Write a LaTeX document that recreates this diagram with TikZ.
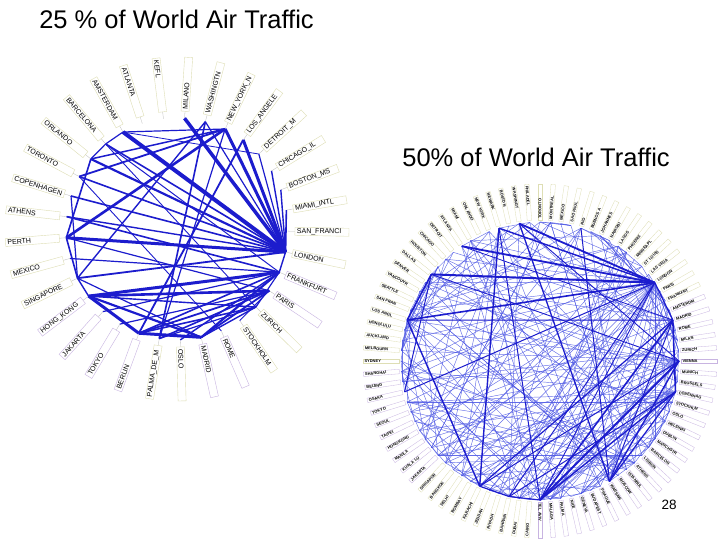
\documentclass[tikz,border=0pt]{standalone}
\usepackage{fontspec}
\setmainfont{Liberation Sans}
\definecolor{edgeblue}{RGB}{28,28,205}
\definecolor{thinblue}{RGB}{75,85,228}
\definecolor{boxY}{RGB}{222,222,180}
\definecolor{boxP}{RGB}{200,180,225}
\definecolor{leadgray}{RGB}{185,185,185}
\tikzset{
  title/.style={font=\fontsize{25.5}{30}\selectfont, inner sep=0pt},
  lbox/.style={draw=#1, line width=0.4pt, fill=white, text width=50pt, align=left,
    inner xsep=2pt, inner ysep=0pt, minimum height=8pt, font=\fontsize{7}{7}\selectfont},
  sbox/.style={draw=#1, line width=0.3pt, fill=white, text width=33pt, align=left,
    inner xsep=1.5pt, inner ysep=0pt, minimum height=4.5pt, font=\fontsize{4}{4}\selectfont\bfseries},
  leader/.style={draw=leadgray, line width=0.3pt},
  ledge/.style={draw=edgeblue, line cap=butt},
  rthin/.style={draw=thinblue, line width=0.45pt, opacity=0.85},
  rthick/.style={draw=edgeblue, line cap=butt}
}
\begin{document}
\begin{tikzpicture}[x=1pt,y=1pt]
\useasboundingbox (0,0) rectangle (720,-540);
\fill[white] (0,0) rectangle (720,-540);

\node[title] (t1) at (176.5,-19) {25 \% of World Air Traffic};
\node[title] (t2) at (536,-157) {50\% of World Air Traffic};

% ---------- left graph (25 %) ----------
\begin{scope}[shift={(177,-229)}]
\foreach \nm/\bc [count=\i from 0] in {KEFL/Y, MILANO/Y, WASHINGTN/Y, NEW\_YORK\_N/Y, LOS\_ANGELE/Y,
  DETROIT\_M/Y, CHICAGO\_IL/Y, BOSTON\_MS/Y, MIAMI\_INTL/Y, SAN\_FRANCI/Y, LONDON/Y,
  FRANKFURT/P, PARIS/P, ZURICH/Y, STOCKHOLM/Y, ROME/P, MADRID/P, OSLO/Y, PALMA\_DE\_M/Y,
  BERLIN/P, TOKYO/P, JAKARTA/P, HONG\_KONG/P, SINGAPORE/Y, MEXICO/Y, PERTH/Y, ATHENS/Y,
  COPENHAGEN/Y, TORONTO/Y, ORLANDO/Y, BARCELONA/Y, AMSTERDAM/Y, ATLANTA/Y} {
  \pgfmathsetmacro\th{97-10.9*\i}
  \pgfmathsetmacro\rot{cos(\th)>=0 ? \th : \th+180}
  \coordinate (L\i) at (\th:111);
  \node[lbox=box\bc, rotate=\rot] (LN\i) at (\th:145) {\nm};
  \draw[leader] (L\i) -- (LN\i);
}
\foreach \a/\b/\w in {31/10/4, 1/10/3.5, 3/10/3, 4/10/3, 25/10/3, 29/10/2.2, 30/10/1.6,
  28/10/1.6, 27/10/1.6, 26/10/1.4, 23/10/1.8, 6/10/1.4, 7/10/1.4, 8/10/1.6, 5/10/1.2,
  2/10/1.2, 11/10/1.4, 31/5/0.8, 31/3/1.2, 3/25/2.6, 3/28/1.8, 3/29/1.5, 2/18/1.6,
  2/23/1.4, 4/19/1.8, 3/18/1.2, 29/25/1.6, 25/23/1.6, 23/27/1.2, 31/30/1.2, 30/29/1.2,
  22/11/3, 22/19/3, 19/16/3, 16/11/2.2, 22/12/2.6, 22/16/2.2, 19/11/1.6, 19/12/1.8,
  19/13/1.6, 18/12/1.6, 18/13/1.2, 16/12/1.8, 16/13/1.4, 17/11/1.4, 20/12/1.2,
  21/11/1.2, 28/15/0.9, 30/13/0.9, 30/11/1.0, 26/11/1.6, 25/12/1.2, 24/11/1.2,
  13/11/1.2, 14/12/1.0, 23/16/1.2, 22/13/1.4, 23/22/1.4}
  \draw[ledge, line width=\w pt] (L\a) -- (L\b);
\end{scope}

% ---------- right graph (50 %) ----------
\begin{scope}[shift={(540,-361)}]
\foreach \nm [count=\j from 0] in {TORONTO, MONTREAL, MEXICO, SAO PAUL, RIO, BUENOS A,
  JOHANNES, NAIROBI, LAGOS, PHOENIX, MINNEAPL, ST LOUIS, LAS VEGA, LONDON, PARIS,
  FRANKFRT, AMSTERDM, MADRID, ROME, MILAN, ZURICH, VIENNA, MUNICH, BRUSSELS, COPENHAG,
  STOCKHLM, OSLO, HELSINKI, DUBLIN, MANCHSTR, BARCELON, LISBON, ATHENS, ISTANBUL,
  MOSCOW, WARSAW, PRAGUE, BUDAPEST, GENEVA, NICE, PALMA, MALAGA, TEL AVIV, CAIRO,
  DUBAI, BAHRAIN, RIYADH, JEDDAH, KARACHI, BOMBAY, DELHI, BANGKOK, SINGAPOR, JAKARTA,
  KUALA LU, MANILA, HONGKONG, TAIPEI, SEOUL, TOKYO, OSAKA, BEIJING, SHANGHAI, SYDNEY,
  MELBOURN, AUCKLAND, HONOLULU, LOS ANGL, SAN FRAN, SEATTLE, VANCOUVR, DENVER, DALLAS,
  HOUSTON, CHICAGO, DETROIT, ATLANTA, MIAMI, ORLANDO, NEW YORK, NEWARK, BOSTON,
  WASHINGT, PHILADEL} {
  \pgfmathsetmacro\ph{90-4.2857143*\j}
  \pgfmathsetmacro\rot{cos(\ph)>=0 ? \ph : \ph+180}
  \def\bc{boxY}
  \ifnum\j>15 \ifnum\j<43 \def\bc{boxP}\fi\fi
  \ifnum\j>52 \ifnum\j<63 \def\bc{boxP}\fi\fi
  \coordinate (R\j) at (\ph:139);
  \node[sbox=\bc, rotate=\rot] (RN\j) at (\ph:159) {\nm};
}
\pgfmathsetseed{12}
\foreach \k in {1,...,160} {
  \pgfmathrandominteger{\ra}{0}{83}
  \pgfmathrandominteger{\rb}{0}{83}
  \draw[rthin] (R\ra) -- (R\rb);
}
\foreach \t in {20,23,...,80} \draw[rthin] (R13) -- (R\t);
\foreach \t in {40,43,...,70} \draw[rthin] (R21) -- (R\t);
\foreach \t in {38,41,...,62} \draw[rthin] (R24) -- (R\t);
\foreach \t in {0,4,...,80} \draw[rthin] (R\t) -- (R\the\numexpr\t+3\relax);
\foreach \a/\b/\w in {13/76/1.8, 13/72/2.0, 13/82/1.8, 13/80/1.4, 13/67/1.6, 72/67/1.6,
  67/48/1.4, 48/45/1.2, 45/42/1.2, 42/21/1.8, 42/17/1.6, 35/21/1.4, 17/24/1.6, 80/48/1.4,
  82/35/1.3, 24/35/1.2, 42/24/1.4, 13/17/1.2, 48/17/1.2, 4/35/1.0, 80/42/1.0, 72/60/1.0,
  13/60/1.0, 13/45/1.0, 13/42/0.9, 21/48/1.0, 24/45/1.0, 17/35/1.0, 76/17/0.8,
  82/21/0.9, 67/17/1.0, 72/21/0.9}
  \draw[rthick, line width=\w pt] (R\a) -- (R\b);
\end{scope}

\node[font=\fontsize{13.5}{16}\selectfont, inner sep=0pt] (pg) at (669,-505) {28};
\end{tikzpicture}
\end{document}
